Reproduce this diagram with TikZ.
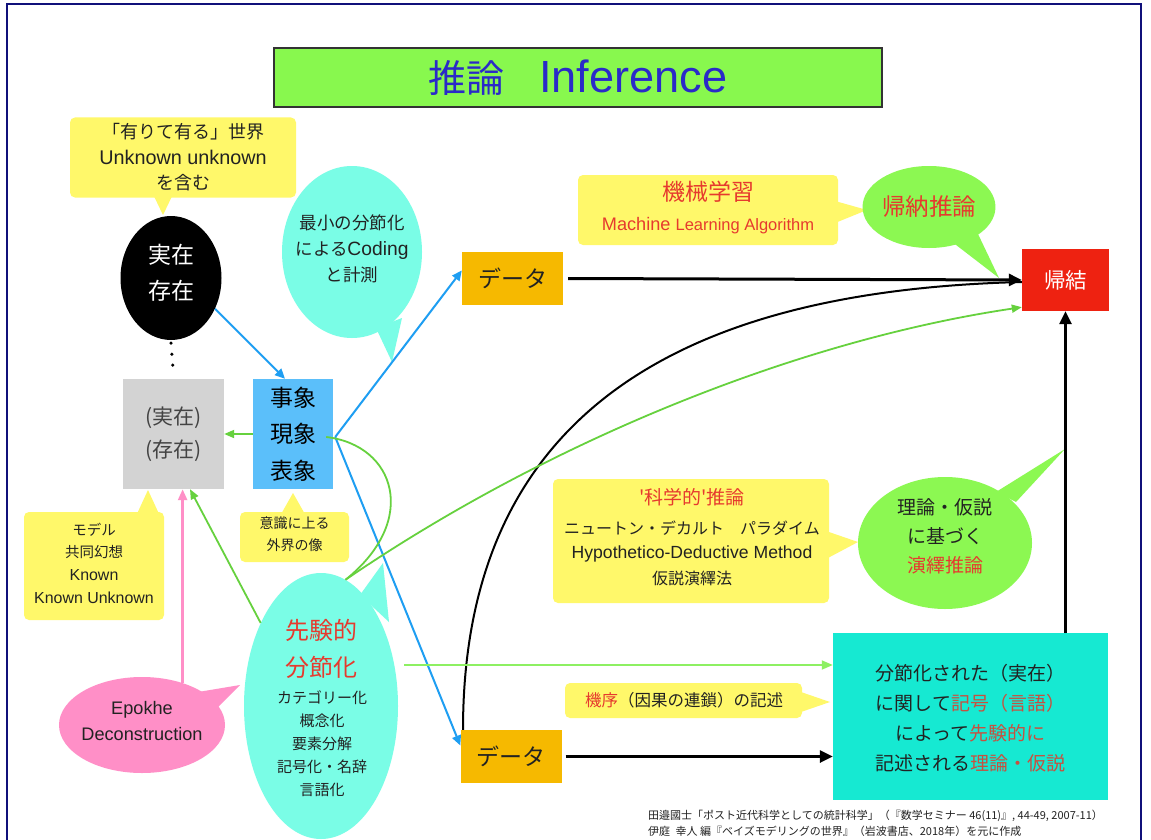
\documentclass[tikz,border=0pt]{standalone}
\usepackage{fontspec}
\setmainfont{Noto Sans CJK JP}
\newfontfamily\latn{Liberation Sans}[Scale=1.1]
\usetikzlibrary{shapes.geometric,arrows.meta,calc}
\definecolor{titlegreen}{HTML}{88F84E}
\definecolor{titleblue}{HTML}{2A2AC8}
\definecolor{callyellow}{HTML}{FFF86A}
\definecolor{callcyan}{HTML}{7AFDE6}
\definecolor{theorycyan}{HTML}{16E9D2}
\definecolor{datayellow}{HTML}{F6B900}
\definecolor{eventblue}{HTML}{5BBFFA}
\definecolor{ellgreen}{HTML}{8CF852}
\definecolor{resultred}{HTML}{EE2211}
\definecolor{epopink}{HTML}{FF8FC7}
\definecolor{boxgray}{HTML}{D3D3D3}
\definecolor{arrowblue}{HTML}{1E9EF2}
\definecolor{arrowgreen}{HTML}{66D13E}
\definecolor{lightgreen}{HTML}{8DF062}
\definecolor{headred}{HTML}{E63A2E}
\definecolor{theoryred}{HTML}{C8503F}
\definecolor{textdark}{HTML}{222222}
\definecolor{framenavy}{HTML}{10107A}
\newcommand{\fs}[2]{\fontsize{#1}{#2}\selectfont}
\tikzset{
  callout/.style={fill=callyellow, rounded corners=5pt, inner sep=0pt},
  txt/.style={text=textdark, align=center, inner sep=0pt},
  datab/.style={fill=datayellow, minimum width=101pt, minimum height=53pt, inner sep=0pt, font=\fs{23}{28}, text=textdark},
  arrB/.style={draw=arrowblue, line width=2pt, -{Triangle[length=10pt,width=9pt]}},
  arrG/.style={draw=arrowgreen, line width=1.8pt, -{Triangle[length=10pt,width=8pt]}},
  arrLG/.style={draw=lightgreen, line width=1.8pt, -{Triangle[length=11pt,width=9pt]}},
  arrK/.style={draw=black, line width=3pt, -{Triangle[length=13pt,width=12pt]}},
  arrP/.style={draw=epopink, line width=2.5pt, -{Triangle[length=11pt,width=9pt]}},
}
\begin{document}
\begin{tikzpicture}[x=1pt,y=-1pt]
\useasboundingbox (0,0) rectangle (1151,840);
\fill[white] (0,0) rectangle (1151,840);
\draw[framenavy, line width=1.5pt] (7,850) -- (7,4) -- (1141,4) -- (1141,850);

% title
\node[fill=titlegreen, draw=black!80, line width=2pt, minimum width=608pt, minimum height=59pt, inner sep=0pt, text=titleblue] (title) at (578,77.5) {\fs{38}{44}推論\hspace{0.9em}{\latn\fs{41}{44}Inference}};

% top-left callout
\node[callout, minimum width=226pt, minimum height=80pt] (ctop) at (183,157.5) {};
\fill[callyellow] (151,190) -- (163,215) -- (175,190) -- cycle;
\node[txt, font=\fs{18}{25.5}] (ctoptext) at (183,157.5) {「有りて有る」世界\\{\latn Unknown unknown}\\を含む};

% black ellipse
\node[ellipse, fill=black, minimum width=101pt, minimum height=124pt, inner sep=0pt] (real) at (171,278) {};
\node[txt, text=white, font=\fs{23}{36}] (realtext) at (171,273) {実在\\存在};

% gray box
\node[fill=boxgray, minimum width=101pt, minimum height=110pt, inner sep=0pt, text=textdark!85, align=center, font=\fs{21}{33}] (gray) at (173.5,434) {(実在)\\(存在)};

% event box
\node[fill=eventblue, minimum width=80pt, minimum height=110pt, inner sep=0pt, text=black, align=center, font=\fs{23}{36.5}] (event) at (293,434) {事象\\現象\\表象};

% coding callout
\node[ellipse, fill=callcyan, minimum width=140pt, minimum height=172pt, inner sep=0pt] (coding) at (352,252) {};
\fill[callcyan] (376,328) -- (392,362) -- (402,318) -- cycle;
\node[txt, font=\fs{17.5}{26}] (codingtext) at (352,249) {最小の分節化\\による{\latn Coding}\\と計測};

% data boxes
\node[datab] (data1) at (512.5,278.5) {データ};
\node[datab] (data2) at (511,756.5) {データ};

% machine learning callout
\node[callout, minimum width=260pt, minimum height=70pt] (ml) at (708,210) {};
\fill[callyellow] (835,201) -- (867,210) -- (835,223) -- cycle;
\node[txt, text=headred, font=\fs{23}{26}] (mltitle) at (708,192) {機械学習};
\node[txt, text=headred] (mlsub) at (708,226) {\latn\fs{16.5}{20}Machine {\fs{15}{20}Learning Algorithm}};

% induction ellipse
\node[ellipse, fill=ellgreen, minimum width=124pt, minimum height=82pt, inner sep=0pt, text=headred, font=\fs{23.5}{26}] (induct) at (929,207) {帰納推論};
\fill[ellgreen] (947,238) -- (999,278) -- (978,234) -- cycle;

% result
\node[fill=resultred, minimum width=87pt, minimum height=62pt, inner sep=0pt, text=white, font=\fs{21.5}{25}] (result) at (1065.5,280) {帰結};

% science callout
\node[callout, minimum width=276pt, minimum height=124pt] (sci) at (691,541) {};
\fill[callyellow] (826,531) -- (858,542) -- (826,559) -- cycle;
\node[txt, text=headred, font=\fs{19}{22}] (scititle) at (692,497) {\textquotesingle 科学的\textquotesingle 推論};
\node[txt, font=\fs{16}{20}] (sci2) at (692,528) {ニュートン・デカルト\hspace{1em}パラダイム};
\node[txt, font={\latn\fs{16}{20}}] (sci3) at (692,554) {Hypothetico-Deductive Method};
\node[txt, font=\fs{16}{20}] (sci4) at (692,578) {仮説演繹法};

% deduction ellipse
\node[ellipse, fill=ellgreen, minimum width=174pt, minimum height=132pt, inner sep=0pt] (deduct) at (945,543) {};
\fill[ellgreen] (996,492) -- (1065,449) -- (1016,502) -- cycle;
\node[txt, font=\fs{19}{29}] (deducttext) at (945,536) {理論・仮説\\に基づく\\{\color{headred}演繹推論}};

% a priori callout
\node[ellipse, fill=callcyan, minimum width=154pt, minimum height=266pt, inner sep=0pt] (apriori) at (321,706) {};
\fill[callcyan] (360,595) -- (383,563) -- (389,622) -- cycle;
\node[txt, text=headred, font=\fs{24}{37}] (apriorihead) at (321,648.5) {先験的\\分節化};
\node[txt, font=\fs{15}{23}] (aprioritext) at (322,744) {カテゴリー化\\概念化\\要素分解\\記号化・名辞\\言語化};

% epokhe callout
\node[ellipse, fill=epopink, minimum width=166pt, minimum height=96pt, inner sep=0pt] (epokhe) at (142,725) {};
\fill[epopink] (198,692) -- (240,685) -- (217,708) -- cycle;
\node[txt, font={\latn\fs{16.5}{26}}] (epotext) at (142,721) {Epokhe\\Deconstruction};

% model callout
\node[callout, minimum width=140pt, minimum height=108pt] (model) at (94,566) {};
\fill[callyellow] (136,516) -- (148,490) -- (160,516) -- cycle;
\node[txt, font=\fs{14.5}{22.7}] (modeltext) at (94,563) {モデル\\共同幻想\\{\latn Known}\\{\latn Known Unknown}};

% consciousness callout
\node[callout, minimum width=109pt, minimum height=50pt] (consc) at (294.5,537) {};
\fill[callyellow] (280,516) -- (293,493) -- (306,516) -- cycle;
\node[txt, font=\fs{14}{22}] (consctext) at (294.5,534) {意識に上る\\外界の像};

% mechanism callout
\node[callout, minimum width=237pt, minimum height=35pt] (mech) at (683.5,700.5) {};
\fill[callyellow] (798,691) -- (830,702) -- (798,713) -- cycle;
\node[txt, font=\fs{16.5}{20}] (mechtext) at (684,700) {{\color{headred}機序}（因果の連鎖）の記述};

% theory box
\node[fill=theorycyan, minimum width=275pt, minimum height=167pt, inner sep=0pt] (theory) at (970.5,716.5) {};
\node[txt, font=\fs{19}{30}] (theorytext) at (970.5,718.5) {分節化された（実在）\\に関して{\color{theoryred}記号（言語）}\\によって{\color{theoryred}先験的に}\\記述される{\color{theoryred}理論・仮説}};

% footnote
\node[anchor=west, inner sep=0pt, font=\fs{11}{12}, text=textdark] (ref1) at (648,816) {田邉國士「ポスト近代科学としての統計科学」（『数学セミナー 46(11)』, 44-49, 2007-11）};
\node[anchor=west, inner sep=0pt, font=\fs{11}{12}, text=textdark] (ref2) at (648,831) {伊庭\hspace{0.5em}幸人 編『ベイズモデリングの世界』（岩波書店、2018年）を元に作成};

% connectors
\draw[line width=3.5pt, line cap=round, dash pattern=on 0pt off 11pt] ([yshift=-3pt]real.south) -- ([yshift=3pt]gray.north);
\draw[arrB] (real.-35) -- ([xshift=-8pt]event.north);
\draw[arrG] (event.west) -- (gray.east);
\draw[arrB] ([xshift=2pt,yshift=-3pt]event.east) -- ([yshift=8pt]data1.west);
\draw[arrB] ([xshift=2pt,yshift=-3pt]event.east) -- ([yshift=11pt]data2.west);
\draw[arrK] ([xshift=5pt]data1.east) -- (result.west);
\draw[black, line width=2pt] ([xshift=-48pt]data2.north) .. controls (463,400) and (700,290) .. ([yshift=-2pt]result.west);
\draw[arrG] (apriori.79) .. controls (550,440) and (800,340) .. ([yshift=4pt]result.south west);
\draw[arrowgreen, line width=1.8pt] (apriori.79) .. controls (420,520) and (395,445) .. ([xshift=-7pt,yshift=-3pt]event.east);
\draw[arrG] (apriori.126) -- ([xshift=16.5pt]gray.south);
\draw[arrP] (epokhe.46) -- (epokhe.46 |- gray.south);
\coordinate (hstart) at (404,665);
\draw[arrLG] (hstart) -- (hstart -| theory.west);
\draw[arrK] ([xshift=4pt]data2.east) -- (data2.east -| theory.west);
\draw[arrK] (result.south |- theory.north) -- (result.south);
\end{tikzpicture}
\end{document}
